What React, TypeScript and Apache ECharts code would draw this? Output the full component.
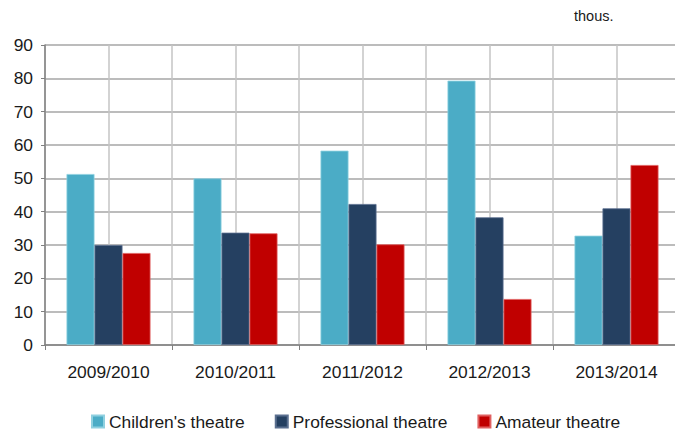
import React, { useEffect, useRef } from "react";
import * as echarts from "echarts";

const categories = ["2009/2010", "2010/2011", "2011/2012", "2012/2013", "2013/2014"];
const childrens = [51.3, 50.0, 58.3, 79.3, 32.8];
const professional = [30.0, 33.7, 42.3, 38.3, 41.0];
const amateur = [27.6, 33.5, 30.2, 13.8, 54.0];
const seriesNames = ["Children's theatre", "Professional theatre", "Amateur theatre"];
const colors = ["#4BACC6", "#254061", "#C00000"];
const borderColors = ["#8fd0e0", "#5a6f8f", "#e06060"];

export default function App() {
  const ref = useRef<HTMLDivElement>(null);
  useEffect(() => {
    const chart = echarts.init(ref.current!, null, { renderer: "svg" });
    const font = "Liberation Sans, Arial, sans-serif";
    const data = [childrens, professional, amateur];
    chart.setOption({
      animation: false,
      textStyle: { fontFamily: font },
      graphic: [
        {
          type: "text",
          left: 574,
          top: 8,
          style: { text: "thous.", fontSize: 14.5, fill: "#1a1a1a", fontFamily: font },
        },
      ],
      legend: {
        top: 408,
        left: 86,
        itemWidth: 12,
        itemHeight: 12,
        itemGap: 30,
        icon: "rect",
        textStyle: { fontSize: 17.4, color: "#1a1a1a", fontFamily: font },
        data: seriesNames,
      },
      grid: {
        left: 45,
        width: 635,
        top: 45,
        height: 300,
        containLabel: false,
        outerBoundsMode: "none",
      },
      xAxis: [
        {
          type: "category",
          data: categories,
          axisLine: { lineStyle: { color: "#808080", width: 1.5 } },
          axisTick: { show: true, length: 5, lineStyle: { color: "#808080" } },
          axisLabel: { fontSize: 17.4, color: "#1a1a1a", margin: 18, fontFamily: font },
          splitLine: { show: false },
        },
        {
          type: "value",
          min: 0,
          max: 10,
          interval: 1,
          show: true,
          position: "bottom",
          axisLine: { show: false },
          axisTick: { show: false },
          axisLabel: { show: false },
          splitLine: { show: true, lineStyle: { color: "#c4c4c4", width: 1.5 } },
        },
      ],
      yAxis: {
        type: "value",
        min: 0,
        max: 90,
        interval: 10,
        axisLine: { show: true, lineStyle: { color: "#808080", width: 1.5 } },
        axisTick: { show: true, length: 4, lineStyle: { color: "#808080" } },
        axisLabel: { fontSize: 17.4, color: "#1a1a1a", margin: 12, fontFamily: font },
        splitLine: { show: true, lineStyle: { color: "#a6a6a6", width: 1.5 } },
      },
      series: data.map((d, i) => ({
        name: seriesNames[i],
        type: "bar",
        xAxisIndex: 0,
        data: d,
        barWidth: 28,
        barGap: "0%",
        itemStyle: { color: colors[i], borderColor: borderColors[i], borderWidth: 0.8 },
      })),
    });
    return () => chart.dispose();
  }, []);
  return <div ref={ref} style={{ width: 675, height: 430, position: "absolute", left: 0, top: 0 }} />;
}
